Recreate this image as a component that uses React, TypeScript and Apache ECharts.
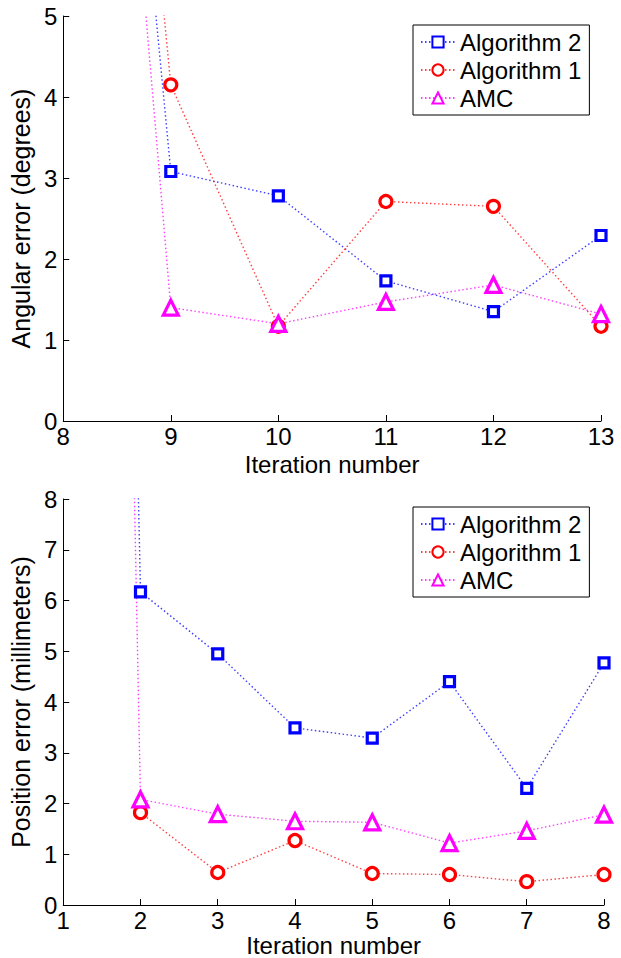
import React, { useEffect, useRef } from "react";
import * as echarts from "echarts";

// Top panel: angular error (degrees)
const iterTop = [8, 9, 10, 11, 12, 13];
const alg2Top = [17.0, 3.08, 2.78, 1.73, 1.35, 2.29];
const alg1Top = [17.9, 4.15, 1.17, 2.71, 2.65, 1.17];
const amcTop = [17.0, 1.4, 1.2, 1.47, 1.68, 1.32];

// Bottom panel: position error (millimeters)
const iterBot = [1, 2, 3, 4, 5, 6, 7, 8];
const alg2Bot = [75, 6.17, 4.95, 3.49, 3.29, 4.4, 2.3, 4.77];
const alg1Bot: (number | null)[] = [null, 1.82, 0.64, 1.27, 0.62, 0.6, 0.46, 0.6];
const amcBot = [78, 2.08, 1.79, 1.65, 1.63, 1.22, 1.46, 1.78];

const legendNames = ["Algorithm 2", "Algorithm 1", "AMC"];

const FONT = "'Liberation Sans', Arial, Helvetica, sans-serif";
const BLUE = "#0000ff";
const RED = "#ff0000";
const MAG = "#ff00ff";

function pairs(xs: number[], ys: (number | null)[]) {
  const out: number[][] = [];
  xs.forEach((x, i) => {
    const y = ys[i];
    if (y !== null && y !== undefined) out.push([x, y]);
  });
  return out;
}

function mk(name: string, xs: number[], ys: (number | null)[], color: string, symbol: string, size: number, bw: number, idx: number) {
  return {
    type: "line",
    name,
    xAxisIndex: idx,
    yAxisIndex: idx,
    data: pairs(xs, ys),
    symbol,
    symbolSize: size,
    showAllSymbol: true,
    clip: true,
    lineStyle: { color, width: 1.4, type: [1.5, 2.5], opacity: 0.75 },
    itemStyle: { color: "#ffffff", borderColor: color, borderWidth: bw },
    emphasis: { disabled: true },
  };
}

function xAxis(idx: number, min: number, max: number, gap: number) {
  return {
    type: "value",
    gridIndex: idx,
    min,
    max,
    interval: 1,
    axisLine: { show: true, onZero: false, lineStyle: { color: "#000", width: 1 } },
    axisTick: { show: true, inside: true, length: 6, lineStyle: { color: "#000" } },
    axisLabel: { color: "#000", fontSize: 24, fontFamily: FONT, margin: 3 },
    splitLine: { show: false },
    name: "Iteration number",
    nameLocation: "middle",
    nameGap: gap,
    nameTextStyle: { color: "#000", fontSize: 24, fontFamily: FONT },
  };
}

function yAxis(idx: number, max: number, name: string) {
  return {
    type: "value",
    gridIndex: idx,
    min: 0,
    max,
    interval: 1,
    axisLine: { show: true, onZero: false, lineStyle: { color: "#000", width: 1 } },
    axisTick: { show: true, inside: true, length: 6, lineStyle: { color: "#000" } },
    axisLabel: { color: "#000", fontSize: 24, fontFamily: FONT, margin: 6 },
    splitLine: { show: false },
    name,
    nameLocation: "middle",
    nameRotate: 90,
    nameGap: 26,
    nameTextStyle: { color: "#000", fontSize: 25, fontFamily: FONT },
  };
}

function legend(top: number) {
  return {
    data: legendNames,
    orient: "vertical",
    left: 413,
    top,
    width: 177,
    padding: [5, 8, 5, 7],
    borderColor: "#000",
    borderWidth: 1,
    backgroundColor: "#fff",
    itemWidth: 34,
    itemHeight: 14,
    itemGap: 4,
    selectedMode: false,
    textStyle: { color: "#000", fontSize: 24, fontFamily: FONT },
  };
}

export default function App() {
  const ref = useRef<HTMLDivElement>(null);
  useEffect(() => {
    if (!ref.current) return;
    const chart = echarts.init(ref.current, null, { renderer: "svg" });
    chart.setOption({
      animation: false,
      backgroundColor: "#ffffff",
      grid: [
        { left: 57, top: 16, width: 544, height: 405 },
        { left: 58, top: 499, width: 546, height: 407 },
      ],
      xAxis: [xAxis(0, 8, 13, 31), xAxis(1, 1, 8, 28)],
      yAxis: [yAxis(0, 5, "Angular error (degrees)"), yAxis(1, 8, "Position error (millimeters)")],
      legend: [legend(25), legend(507)],
      series: [
        mk("Algorithm 2", iterTop, alg2Top, BLUE, "rect", 10, 3.2, 0),
        mk("Algorithm 1", iterTop, alg1Top, RED, "circle", 12, 3.2, 0),
        mk("AMC", iterTop, amcTop, MAG, "triangle", 15, 3.2, 0),
        mk("Algorithm 2", iterBot, alg2Bot, BLUE, "rect", 10, 3.2, 1),
        mk("Algorithm 1", iterBot, alg1Bot, RED, "circle", 12, 3.2, 1),
        mk("AMC", iterBot, amcBot, MAG, "triangle", 15, 3.2, 1),
      ],
    });
    return () => chart.dispose();
  }, []);
  return (
    <div
      ref={ref}
      style={{ position: "fixed", left: 0, top: 0, width: 621, height: 958, background: "#fff" }}
    />
  );
}
